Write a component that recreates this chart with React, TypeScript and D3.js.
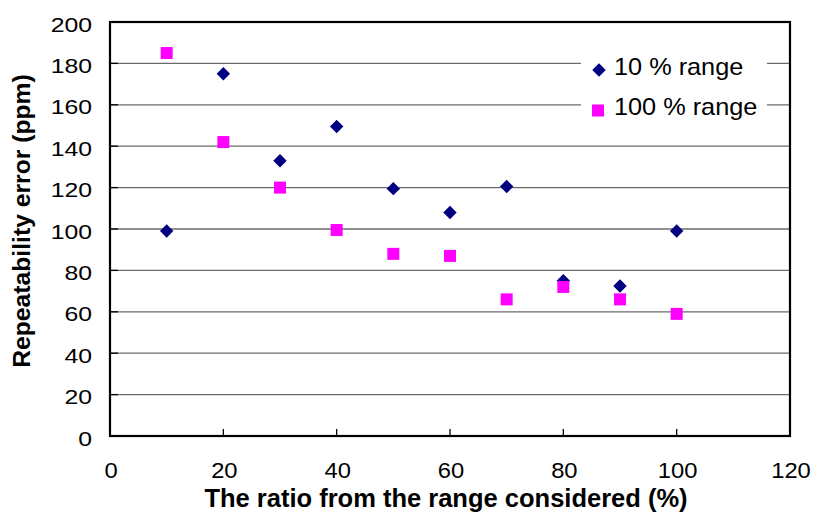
import React from "react";
import * as d3 from "d3";

const xValues = [10, 20, 30, 40, 50, 60, 70, 80, 90, 100];
const range10 = [99, 175, 133, 149.5, 119.5, 108, 120.5, 75, 72.5, 99];
const range100 = [185, 142, 120, 99.5, 88, 87, 66, 72, 66, 59];
const xTicks = [0, 20, 40, 60, 80, 100, 120];
const yTicks = [0, 20, 40, 60, 80, 100, 120, 140, 160, 180, 200];
const seriesNames = ["10 % range", "100 % range"];

const W = 815, H = 518;
const left = 110, right = 790, top = 22, bottom = 436;
const FONT = "Liberation Sans, Arial, sans-serif";

function SText(props: { x: number; y: number; sx: number; anchor?: string; size: number; bold?: boolean; children: any }) {
  return (
    <g transform={`translate(${props.x},${props.y}) scale(${props.sx},1)`}>
      <text x={0} y={0} textAnchor={props.anchor || "start"} fontFamily={FONT} fontSize={props.size}
        fontWeight={props.bold ? "bold" : "normal"} fill="#000">{props.children}</text>
    </g>
  );
}

export default function App() {
  const x = d3.scaleLinear().domain([0, 120]).range([left, right]);
  const y = d3.scaleLinear().domain([0, 200]).range([bottom, top]);
  const diamond = d3.symbol().type(d3.symbolDiamond2).size(115)();
  const sq = 12;
  return (
    <svg width={W} height={H} style={{ position: "absolute", left: 0, top: 0, background: "#fff" }}>
      <rect x={0} y={0} width={W} height={H} fill="#fff" />
      {yTicks.filter(t => t > 0 && t < 200).map(t => (
        <line key={"g" + t} x1={left} x2={right} y1={y(t)} y2={y(t)} stroke="#6b6b6b" strokeWidth={1.3} />
      ))}
      {yTicks.map(t => (
        <g key={"yt" + t}>
          <line x1={left} x2={left + 8} y1={y(t)} y2={y(t)} stroke="#000" strokeWidth={1.3} />
          <SText x={92} y={y(t) + 9.5} sx={1.18} anchor="end" size={21}>{t}</SText>
        </g>
      ))}
      {xTicks.map(t => (
        <g key={"xt" + t}>
          <line x1={x(t)} x2={x(t)} y1={bottom} y2={bottom - 7} stroke="#000" strokeWidth={1.3} />
          <SText x={x(t) + 1} y={478} sx={1.08} anchor="middle" size={22}>{t}</SText>
        </g>
      ))}
      <rect x={left} y={top} width={right - left} height={bottom - top} fill="none" stroke="#000" strokeWidth={2.2} />
      {/* legend */}
      <rect x={581} y={46} width={186} height={80} fill="#fff" />
      <path d={diamond} transform={`translate(599,70)`} fill="#000080" />
      <SText x={614} y={75} sx={1.1} size={23}>{seriesNames[0]}</SText>
      <rect x={598 - 6} y={110.5 - 6} width={12} height={12} fill="#FF00FF" />
      <SText x={614} y={115} sx={1.1} size={23}>{seriesNames[1]}</SText>
      {/* data */}
      {xValues.map((v, i) => (
        <path key={"d" + i} d={diamond} transform={`translate(${x(v)},${y(range10[i])})`} fill="#000080" />
      ))}
      {xValues.map((v, i) => (
        <rect key={"s" + i} x={x(v) - sq / 2} y={y(range100[i]) - sq / 2} width={sq} height={sq} fill="#FF00FF" />
      ))}
      <SText x={446} y={507} sx={1.0} anchor="middle" size={25.5} bold>The ratio from the range considered (%)</SText>
      <text transform={`translate(30,221) rotate(-90)`} textAnchor="middle" fontFamily={FONT} fontSize={24.7} fontWeight="bold" fill="#000">Repeatability error (ppm)</text>
    </svg>
  );
}
